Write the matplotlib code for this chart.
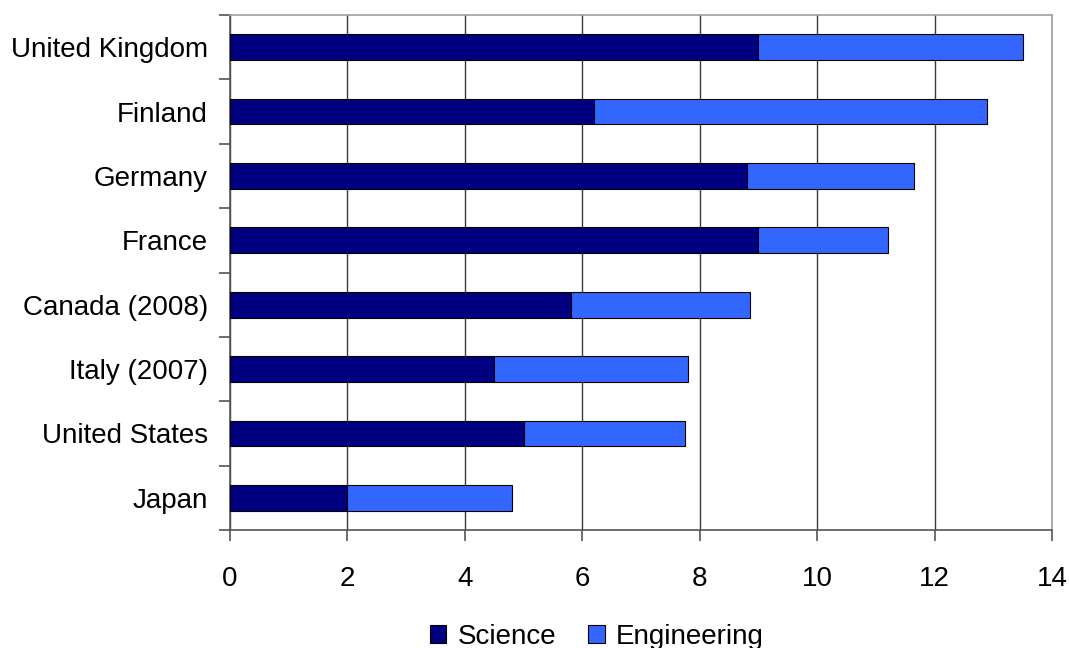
import matplotlib
matplotlib.use("Agg")
import matplotlib.pyplot as plt
import numpy as np

plt.rcParams['font.family'] = ['Liberation Sans', 'DejaVu Sans']

countries = ["United Kingdom", "Finland", "Germany", "France", "Canada (2008)",
             "Italy (2007)", "United States", "Japan"]
science = [9.0, 6.2, 8.8, 9.0, 5.8, 4.5, 5.0, 2.0]
engineering = [4.5, 6.7, 2.85, 2.2, 3.05, 3.3, 2.75, 2.8]

sci_color = "#000080"
eng_color = "#3366FF"

fig = plt.figure(figsize=(10.69, 6.48), dpi=100)
ax = fig.add_axes([230 / 1069, 1 - 530 / 648, (1052 - 230) / 1069, (530 - 15) / 648])

y = np.arange(len(countries))
h = 0.4
ax.barh(y, science, height=h, color=sci_color, edgecolor="black", linewidth=0.8,
        label="Science", zorder=3)
ax.barh(y, engineering, left=science, height=h, color=eng_color, edgecolor="black",
        linewidth=0.8, label="Engineering", zorder=3)

ax.set_xlim(0, 14)
ax.set_ylim(len(countries) - 0.5, -0.5)
ax.set_xticks(np.arange(0, 15, 2))
ax.xaxis.grid(True, color="#3a3a3a", linewidth=1.0, zorder=0)
ax.set_yticks(y)
ax.set_yticklabels(countries)
ax.tick_params(axis="y", length=0, pad=16, labelsize=20)
ax.set_yticks(np.arange(-0.5, len(countries) + 0.5, 1), minor=True)
ax.tick_params(axis="y", which="minor", length=8, width=1.2, color="#555555")
ax.tick_params(axis="x", length=8, width=1.2, color="#555555", labelsize=20, pad=18)

for side in ["top", "right"]:
    ax.spines[side].set_color("#a0a0a0")
    ax.spines[side].set_linewidth(1.2)
for side in ["left", "bottom"]:
    ax.spines[side].set_color("#555555")
    ax.spines[side].set_linewidth(1.2)

# legend sits along the bottom edge of the figure
fig.legend(loc="center", bbox_to_anchor=(0.558, 1 - 637 / 648), ncol=2,
           frameon=False, fontsize=20, handlelength=0.6, handleheight=0.6,
           columnspacing=1.15, handletextpad=0.4)

fig.savefig("out.png", dpi=100)
